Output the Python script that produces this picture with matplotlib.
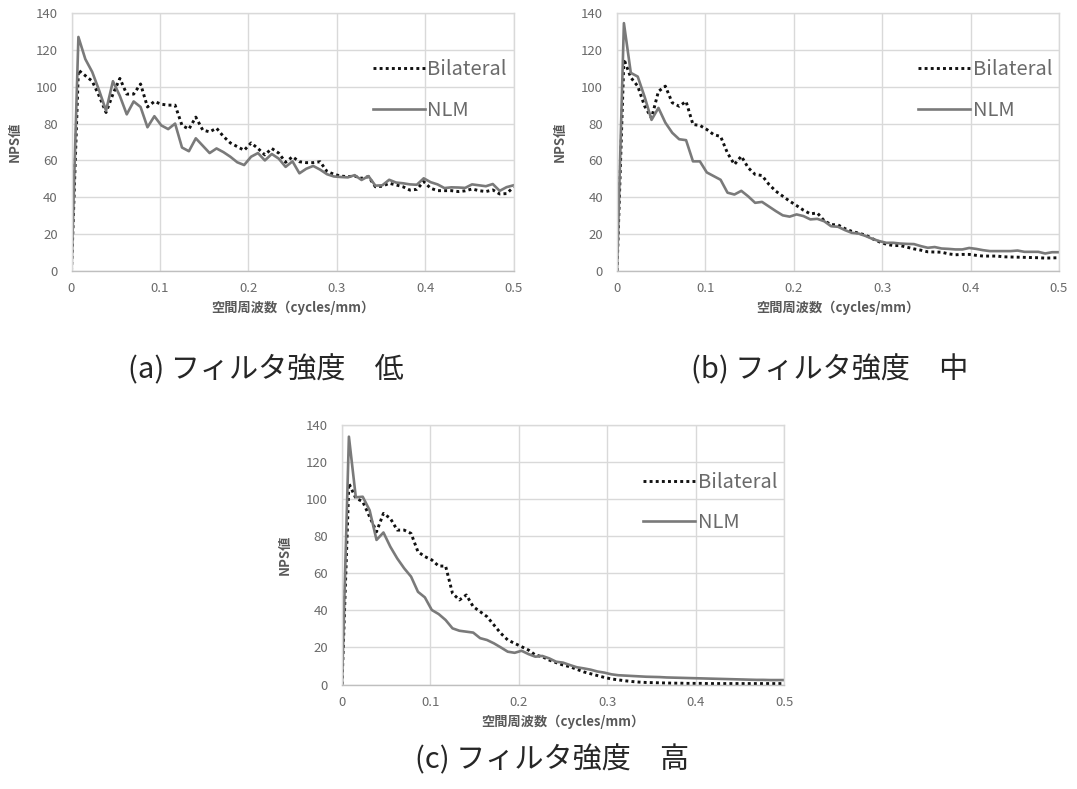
import numpy as np
import matplotlib
matplotlib.use('Agg')
import matplotlib.pyplot as plt

plt.rcParams['font.family'] = ['Noto Sans CJK JP', 'DejaVu Sans']

# Spatial frequency axis (cycles/mm), 65 samples from 0 to 0.5
freq = np.linspace(0, 0.5, 65)

# (a) filter strength: low
a_bilateral = [0, 109, 106, 103, 95, 86, 96, 104.5, 96, 96, 101.5, 89, 92, 90.5, 90, 90,
               79, 77, 83.5, 76.5, 75.5, 77.5, 73, 69.5, 67.5, 65.5, 69.5, 66.5, 63, 66.5, 64, 59,
               62, 59.3, 58.8, 58.8, 59.3, 54, 52.5, 51.5, 51.2, 51.5, 50.3, 51.2, 45.7, 46, 47.6, 46.7,
               45.7, 43.9, 44.3, 48.5, 44.9, 43.6, 43.6, 43.6, 43.1, 43.5, 44.5, 43.6, 43.1, 44, 41.8, 42,
               45.5]
a_nlm = [0, 127, 115, 108, 98, 87, 103, 95, 85, 92, 89, 78, 84, 79, 77, 80,
         67, 65, 72, 68, 64, 66.5, 64.5, 62, 59, 57.5, 62, 64, 60, 63.5, 61, 56.5,
         59.5, 53, 55.5, 57, 55, 52.5, 51.3, 51, 50.8, 52, 49.4, 51.5, 46.3, 46.5, 49.5, 48,
         47.6, 47, 46.8, 50.3, 48.2, 47, 45, 45.4, 45.3, 45.1, 47, 46.5, 46, 47.2, 43.5, 45.5,
         46.5]

# (b) filter strength: medium
b_bilateral = [0, 115, 105, 100.3, 89.5, 83, 97.5, 100.3, 91.3, 89.4, 92, 79.5, 79, 76.8, 74, 73,
               64, 57.8, 62.3, 56, 52.4, 51.8, 47, 43.3, 40.6, 37.9, 35.5, 33, 31, 31.5, 27.3, 25.2,
               25, 23, 21.5, 20.5, 19.5, 17.5, 15.8, 14.5, 13.8, 13.8, 12.9, 12, 11.3, 10.4, 10.3, 10.2,
               9.3, 8.8, 9, 9, 8.5, 8.1, 8.1, 8.1, 7.7, 7.6, 7.5, 7.4, 7.3, 7.2, 7.0, 7.1,
               7.2]
b_nlm = [0, 134.5, 107.5, 105.5, 94.5, 82, 88.5, 80.5, 75, 71.5, 71, 59.5, 59.5, 53.5, 51.5, 49.5,
         42.5, 41.5, 43.5, 40.5, 37, 37.5, 35, 32.5, 30.2, 29.5, 30.7, 29.8, 28, 28.3, 27, 24.3,
         24, 22.2, 20.7, 20.3, 19, 17.4, 16.2, 15.3, 15.3, 14.9, 14.7, 14.6, 13.5, 12.6, 13, 12.2,
         12, 11.7, 11.7, 12.5, 12, 11.3, 10.8, 10.8, 10.8, 10.8, 11.1, 10.4, 10.4, 10.4, 9.5, 10.2,
         10.2]

# (c) filter strength: high
c_bilateral = [0, 108.5, 100.5, 98.7, 90.5, 82.4, 92.3, 89.6, 83.3, 83.3, 81.5, 71.6, 69, 67.2, 63.9, 63.9,
               49.2, 45.6, 48.3, 42, 39.3, 36.6, 32.1, 27.6, 24, 22.2, 20.4, 18.6, 15.9, 15, 13.2, 11.8,
               10.5, 9.6, 8.2, 6.8, 5.8, 4.8, 3.8, 3.0, 2.5, 2.0, 1.6, 1.3, 1.1, 1.0, 0.9, 0.8,
               0.7, 0.7, 0.6, 0.6, 0.6, 0.5, 0.5, 0.5, 0.5, 0.5, 0.5, 0.5, 0.5, 0.5, 0.5, 0.5,
               0.5]
c_nlm = [0, 133.7, 101, 101.3, 94, 78, 82, 74.3, 68, 62.7, 58.2, 50, 47, 40.2, 38, 34.8,
         30.3, 29, 28.5, 28, 25, 24, 22.2, 20, 17.7, 17.1, 18.2, 16.4, 15, 15.4, 14.1, 12.3,
         11.8, 10.5, 9.3, 8.7, 8, 7, 6.4, 5.5, 5, 4.8, 4.6, 4.4, 4.2, 4.1, 4, 3.8,
         3.7, 3.6, 3.5, 3.4, 3.3, 3.2, 3.1, 3, 2.9, 2.8, 2.7, 2.6, 2.5, 2.5, 2.4, 2.4,
         2.4]

x_ticks = [0, 0.1, 0.2, 0.3, 0.4, 0.5]
x_ticklabels = ['0', '0.1', '0.2', '0.3', '0.4', '0.5']
y_ticks = [0, 20, 40, 60, 80, 100, 120, 140]

captions = ['(a) フィルタ強度\u3000低', '(b) フィルタ強度\u3000中', '(c) フィルタ強度\u3000高']

W, H = 1077, 789
fig = plt.figure(figsize=(W / 100, H / 100), dpi=100)

grey = '#595959'
grid_c = '#d9d9d9'


def panel(left, top, right, bottom, bil, nlm):
    ax = fig.add_axes([left / W, 1 - bottom / H, (right - left) / W, (bottom - top) / H])
    ax.plot(freq, bil, color='#111111', lw=2.1, ls=(0, (1, 1.1)), label='Bilateral')
    ax.plot(freq, nlm, color='#7a7a7a', lw=1.9, label='NLM')
    ax.set_xlim(0, 0.5)
    ax.set_ylim(0, 140)
    ax.set_xticks(x_ticks)
    ax.set_xticklabels(x_ticklabels)
    ax.set_yticks(y_ticks)
    ax.grid(True, color=grid_c, lw=1.0)
    ax.set_axisbelow(True)
    for s in ['left', 'top', 'right']:
        ax.spines[s].set_color(grid_c)
        ax.spines[s].set_linewidth(1.0)
    ax.spines['bottom'].set_color('#bfbfbf')
    ax.spines['bottom'].set_linewidth(1.0)
    ax.tick_params(length=0, labelsize=9.5, labelcolor='#6a6a6a')
    ax.tick_params(axis='x', pad=8)
    ax.tick_params(axis='y', pad=10)
    ax.set_xlabel('空間周波数（cycles/mm）', fontsize=9.5, color=grey, fontweight='bold', labelpad=4)
    ax.set_ylabel('NPS値', fontsize=9.5, color=grey, fontweight='bold', labelpad=10)
    ax.legend(loc='upper right', bbox_to_anchor=(0.985, 0.82), frameon=False, fontsize=14.5,
              labelcolor='#6a6a6a', handlelength=2.6, handletextpad=0.12, labelspacing=0.95,
              borderpad=0, borderaxespad=0)
    return ax


panel(71.5, 13, 513.5, 271, a_bilateral, a_nlm)
panel(617, 13, 1059, 271, b_bilateral, b_nlm)
panel(342, 425, 784, 684.5, c_bilateral, c_nlm)

fig.text(266 / W, 1 - 370 / H, captions[0], fontsize=21, color='#262626', ha='center', va='center')
fig.text(830 / W, 1 - 370 / H, captions[1], fontsize=21, color='#262626', ha='center', va='center')
fig.text(552 / W, 1 - 760 / H, captions[2], fontsize=21, color='#262626', ha='center', va='center')

fig.savefig('out.png', dpi=100)
